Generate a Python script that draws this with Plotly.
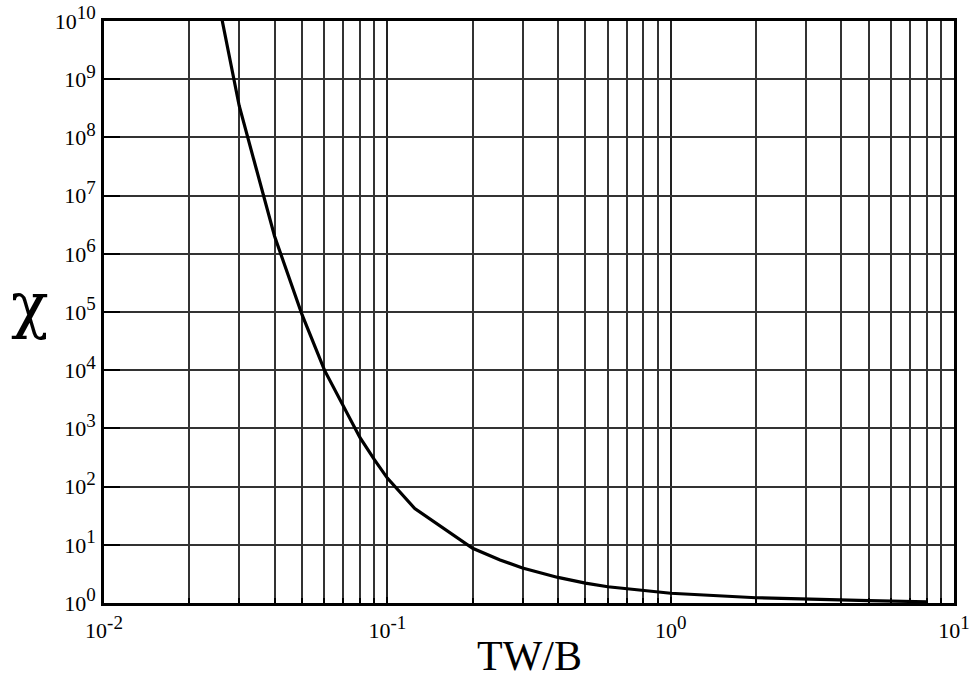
import plotly.graph_objects as go

# Data
tw_b = [0.025, 0.03, 0.04, 0.05, 0.06, 0.07, 0.08, 0.09, 0.1, 0.125, 0.16,
        0.2, 0.25, 0.3, 0.4, 0.5, 0.6, 0.8, 1.0, 2.0, 3.0, 5.0, 8.0]
chi = [3.0e10, 3.5e8, 2.0e6, 9.0e4, 1.0e4, 2.4e3, 700, 290, 140, 42, 18,
       8.7, 5.5, 4.0, 2.75, 2.2, 1.9, 1.63, 1.47, 1.23, 1.16, 1.1, 1.05]

SUP = "<sup><span style='font-size:19px'>%s</span></sup>"
x_major_vals = [0.01, 0.1, 1, 10]
x_major_text = ["10" + SUP % e for e in ("-2", "-1", "0", "1")]
y_major_vals = [10 ** k for k in range(0, 11)]
y_major_text = ["10" + SUP % k for k in range(0, 11)]
x_minor_vals = [m * 10 ** e for e in (-2, -1, 0) for m in range(2, 10)]

font_family = "Liberation Serif, Times New Roman, serif"
L, R, T, B = 104, 954, 21, 603

fig = go.Figure()
fig.add_trace(go.Scatter(
    x=tw_b, y=chi, mode="lines",
    line=dict(color="black", width=3.2),
    showlegend=False,
))

fig.update_layout(
    template="none",
    width=971, height=679,
    margin=dict(l=L, r=971 - R, t=T, b=679 - B, pad=0),
    paper_bgcolor="white", plot_bgcolor="white",
    font=dict(family=font_family, color="black", size=22),
    xaxis=dict(
        type="log", range=[-2, 1], automargin=False,
        tickmode="array", tickvals=x_major_vals, ticktext=x_major_text,
        showgrid=True, gridcolor="#222", gridwidth=1.5,
        ticks="inside", ticklen=6, tickwidth=2, tickcolor="black",
        minor=dict(tickmode="array", tickvals=x_minor_vals, showgrid=True,
                   gridcolor="#333", gridwidth=1.5,
                   ticks="inside", ticklen=5, tickwidth=1.5, tickcolor="black"),
        showline=True, linecolor="black", linewidth=2.5, mirror=True,
        zeroline=False,
        tickfont=dict(size=22, family=font_family),
        ticklabelstandoff=6,
    ),
    yaxis=dict(
        type="log", range=[0, 10], automargin=False,
        tickmode="array", tickvals=y_major_vals, ticktext=y_major_text,
        showgrid=True, gridcolor="#333", gridwidth=1.5,
        ticks="inside", ticklen=16, tickwidth=2, tickcolor="black",
        showline=True, linecolor="black", linewidth=2.5, mirror=True,
        zeroline=False,
        tickfont=dict(size=22, family=font_family),
        ticklabelstandoff=1,
    ),
    annotations=[
        dict(text="χ", x=(30 - L) / (R - L), y=(B - 304) / (B - T),
             xref="paper", yref="paper", xanchor="center", yanchor="middle",
             showarrow=False, font=dict(size=62, family="DejaVu Serif")),
        dict(text="TW/B", x=(529 - L) / (R - L), y=(B - 656) / (B - T),
             xref="paper", yref="paper", xanchor="center", yanchor="middle",
             showarrow=False, font=dict(size=42, family=font_family)),
    ],
)

fig.write_html(
    "out.html",
    config={"displayModeBar": False},
    post_script="document.body.style.margin='0';document.body.style.overflow='hidden';",
)
